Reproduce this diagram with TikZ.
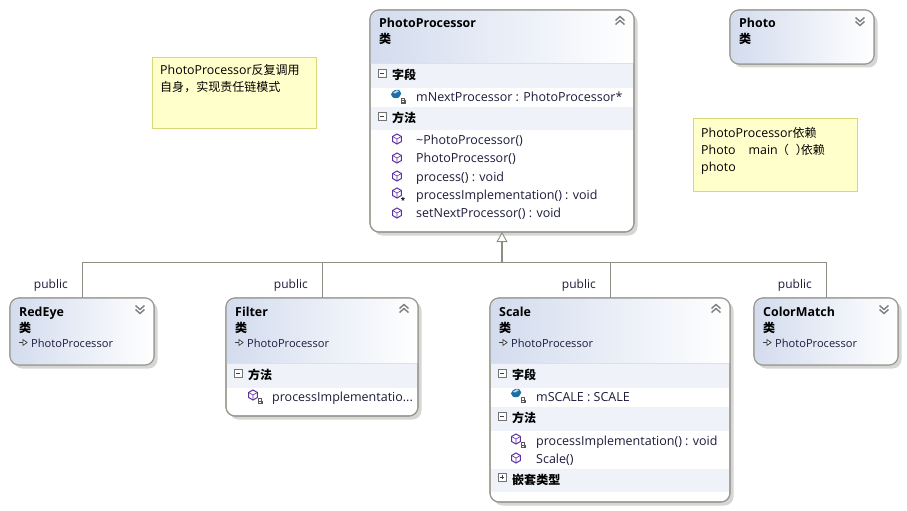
\documentclass[tikz,border=0pt]{standalone}
\usepackage{fontspec}
\setmainfont{Open Sans}
\newfontfamily\cjk[Scale=0.97]{Noto Sans CJK SC}
\usetikzlibrary{arrows.meta,shadows}

\definecolor{edgegray}{HTML}{9A9A90}
\definecolor{linegray}{HTML}{8E8E84}
\definecolor{headblue}{HTML}{D3DCEE}
\definecolor{bandblue}{HTML}{EFF2F9}
\definecolor{notefill}{HTML}{FFFFCC}
\definecolor{noteedge}{HTML}{D8D878}
\definecolor{iconpurple}{HTML}{5E2FA0}
\definecolor{iconblue}{HTML}{1B6FA6}
\definecolor{membercol}{HTML}{1C1C3A}

\tikzset{
  classbox/.style={rectangle,draw=edgegray,line width=1.1pt,rounded corners=9pt,fill=white,
    inner sep=0pt,outer sep=0pt,
    drop shadow={shadow xshift=3.5pt,shadow yshift=-3.5pt,fill=black!16,opacity=1}},
  notebox/.style={rectangle,draw=noteedge,line width=0.9pt,fill=notefill,inner sep=0pt,outer sep=0pt},
  genline/.style={draw=linegray,line width=1pt},
  classname/.style={anchor=base west,inner sep=0pt,font=\fontsize{12.4}{14}\selectfont\bfseries},
  classkind/.style={anchor=west,inner sep=0pt,font=\fontsize{12.4}{14}\selectfont\cjk\bfseries},
  bandtext/.style={anchor=west,inner sep=0pt,font=\fontsize{12.4}{14}\selectfont\cjk\bfseries},
  membertext/.style={anchor=base west,inner sep=0pt,text=membercol,font=\fontsize{12.5}{14}\selectfont},
  basetext/.style={anchor=base west,inner sep=0pt,text=membercol,font=\fontsize{11.1}{13}\selectfont},
  publictext/.style={anchor=base east,inner sep=0pt,text=membercol,font=\fontsize{12}{14}\selectfont},
  notetext/.style={anchor=north west,inner sep=0pt,align=left,font=\fontsize{12.4}{17}\selectfont},
  methodicon/.pic={
    \draw[iconpurple,line width=1pt,fill=white] (0,-5) -- (4.4,-2.5) -- (4.4,2.5) -- (0,5) -- (-4.4,2.5) -- (-4.4,-2.5) -- cycle;
    \draw[iconpurple,line width=0.6pt] (-4.4,-2.5) -- (0,0) -- (4.4,-2.5) (0,0) -- (0,5);
  },
  fieldicon/.pic={
    \fill[iconblue,rounded corners=2pt] (-5,-1.5) -- (1,-5) -- (5,-3) -- (5,2) -- (0,5) -- (-5,2.5) -- cycle;
    \fill[white!70!iconblue] (-3,-1.5) -- (1,-3.8) -- (3,-2.8) -- (-1,-0.5) -- cycle;
  },
  lockicon/.pic={
    \fill[black!65] (-2.5,-0.5) rectangle (2.5,3);
    \draw[black!65,line width=0.7pt] (-1.3,-0.5) -- (-1.3,-2.2) -- (1.3,-2.2) -- (1.3,-0.5);
    \fill[white] (-0.7,0.8) rectangle (0.7,1.8);
  },
  chevup/.pic={
    \draw[black!50,line width=1.4pt] (-4.5,-0.5) -- (0,-4.5) -- (4.5,-0.5);
    \draw[black!50,line width=1.4pt] (-4.5,3.5) -- (0,-0.5) -- (4.5,3.5);
  },
  chevdown/.pic={
    \draw[black!50,line width=1.4pt] (-4.5,0.5) -- (0,4.5) -- (4.5,0.5);
    \draw[black!50,line width=1.4pt] (-4.5,-3.5) -- (0,0.5) -- (4.5,-3.5);
  },
  minusicon/.pic={
    \draw[black!55,line width=0.7pt,fill=white] (-4,-4) rectangle (4,4);
    \draw[black!75,line width=0.9pt] (-2.2,0) -- (2.2,0);
  },
  plusicon/.pic={
    \draw[black!55,line width=0.7pt,fill=white] (-4,-4) rectangle (4,4);
    \draw[black!75,line width=0.9pt] (-2.2,0) -- (2.2,0) (0,-2.2) -- (0,2.2);
  },
  basemark/.pic={
    \draw[black!75,line width=0.9pt] (-4,0) -- (0,0);
    \draw[black!75,line width=0.8pt,fill=white] (0,-2.8) -- (4,0) -- (0,2.8) -- cycle;
  }
}

% header gradient, inside the outline of a class box
\newcommand{\classhead}[2]{
  \begin{scope}
    \clip[rounded corners=9pt] (#1.south west) rectangle (#1.north east);
    \shade[left color=headblue,right color=white] (#1.north west) rectangle (#1.east |- 0,#2);
    \draw[line width=0.6pt,draw=black!12] (#1.west |- 0,#2) -- (#1.east |- 0,#2);
  \end{scope}
  \draw[edgegray,line width=1.1pt,rounded corners=9pt] (#1.south west) rectangle (#1.north east);
}
% section band across a class box
\newcommand{\classband}[3]{
  \fill[bandblue] ([xshift=0.6pt]#1.west |- 0,#2) rectangle ([xshift=-0.6pt]#1.east |- 0,#3);
}

\begin{document}
\begin{tikzpicture}[x=1pt,y=-1pt]
\useasboundingbox[fill=white] (0,0) rectangle (907,511);

% class boxes
\node[classbox,minimum width=264pt,minimum height=222pt] (processor) at (502,121) {};
\node[classbox,minimum width=144pt,minimum height=54pt] (photo) at (802,37) {};
\node[classbox,minimum width=144pt,minimum height=67pt] (redeye) at (82,331.5) {};
\node[classbox,minimum width=192pt,minimum height=118pt] (filter) at (322,357) {};
\node[classbox,minimum width=240pt,minimum height=204pt] (scale) at (610,400) {};
\node[classbox,minimum width=144pt,minimum height=67pt] (colormatch) at (826,331.5) {};

\classhead{processor}{63.5}
\classhead{photo}{64}
\classhead{redeye}{365}
\classhead{filter}{363}
\classhead{scale}{363}
\classhead{colormatch}{365}

\classband{processor}{64}{88}
\classband{processor}{107}{130}
\classband{filter}{363.5}{388}
\classband{scale}{363.5}{388}
\classband{scale}{407}{431}
\classband{scale}{469}{492}

% notes
\node[notebox,minimum width=164pt,minimum height=71pt] (noteleft) at (234,92.5) {};
\node[notebox,minimum width=164pt,minimum height=73pt] (noteright) at (775,154.5) {};
\node[notetext] (noteleftt) at (160,64) {PhotoProcessor{\cjk 反复调用}\\{\cjk 自身，实现责任链模式}};
\node[notetext] (noterightt) at (701,127.5) {PhotoProcessor{\cjk 依赖}\\Photo\hspace{13pt}main\hspace{-1pt}{\cjk （}\hspace{7pt}{\cjk ）}\hspace{-7pt}{\cjk 依赖}\\photo};

% inheritance
\coordinate (bus) at (502,262);
\draw[genline,line width=1.6pt,-{Triangle[open,fill=white,length=10pt,width=11pt,line width=0.9pt]}] (bus) -- (processor.south);
\foreach \child in {redeye,filter,scale,colormatch}
  \draw[genline] (\child.north) |- (bus);

\node[publictext] (pubredeye) at (68,288) {public};
\node[publictext] (pubfilter) at (308,288) {public};
\node[publictext] (pubscale) at (596,288) {public};
\node[publictext] (pubcolor) at (812,288) {public};

% titles
\node[classname] (nprocessor) at (379,28) {PhotoProcessor};
\node[classkind] (kprocessor) at (379,39) {类};
\node[classname] (nphoto) at (739,28) {Photo};
\node[classkind] (kphoto) at (739,39) {类};
\foreach \cname/\title/\xpos in {redeye/RedEye/19,filter/Filter/235,scale/Scale/499,colormatch/ColorMatch/763} {
  \node[classname] (n\cname) at (\xpos,316) {\title};
  \node[classkind] (k\cname) at (\xpos,327.5) {类};
  \pic at (\xpos+4,342.5) {basemark};
  \node[basetext] (b\cname) at (\xpos+12,347) {PhotoProcessor};
}

% collapse marks
\pic at (620,21) {chevup};
\pic at (860,21) {chevdown};
\pic at (140,309) {chevdown};
\pic at (404,309) {chevup};
\pic at (716,309) {chevup};
\pic at (884,309) {chevdown};

% PhotoProcessor members
\pic at (382,73) {minusicon};
\node[bandtext] (pfields) at (392,75) {字段};
\pic at (396,94) {fieldicon};
\pic at (403,100.5) {lockicon};
\node[membertext] (pfield) at (416,101) {mNextProcessor : PhotoProcessor*};
\pic at (382,116) {minusicon};
\node[bandtext] (pmethods) at (392,118) {方法};
\foreach \i/\ypos/\ybase/\mname in {1/139/144/\textasciitilde PhotoProcessor(),2/158/162.5/PhotoProcessor(),3/176/181/process() : void,4/193/199/processImplementation() : void,5/213/217/setNextProcessor() : void} {
  \pic at (397,\ypos) {methodicon};
  \node[membertext] (pm\i) at (416,\ybase) {\mname};
}
\node[inner sep=0pt,font=\fontsize{8}{8}\selectfont\bfseries] (pstar) at (403,200) {*};

% Filter members
\pic at (238,373) {minusicon};
\node[bandtext] (ffmethods) at (248,375) {方法};
\pic at (253,395) {methodicon};
\pic at (260,401) {lockicon};
\node[membertext] (fm1) at (272,401) {processImplementatio...};

% Scale members
\pic at (502,373) {minusicon};
\node[bandtext] (sfields) at (512,375) {字段};
\pic at (516,393) {fieldicon};
\pic at (523,400) {lockicon};
\node[membertext] (sfield) at (536,401.5) {mSCALE : SCALE};
\pic at (502,416) {minusicon};
\node[bandtext] (smethods) at (512,418) {方法};
\pic at (516,439) {methodicon};
\pic at (523,445) {lockicon};
\node[membertext] (sm1) at (536,445) {processImplementation() : void};
\pic at (516,458) {methodicon};
\node[membertext] (sm2) at (536,463) {Scale()};
\pic at (502,477) {plusicon};
\node[bandtext] (snested) at (512,480) {嵌套类型};
\end{tikzpicture}
\end{document}
